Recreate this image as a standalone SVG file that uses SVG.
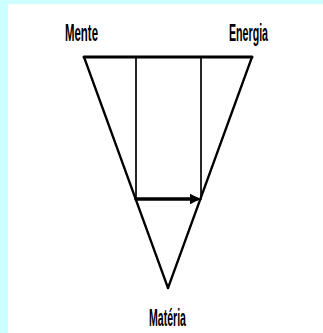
<svg xmlns="http://www.w3.org/2000/svg" width="323" height="333" viewBox="0 0 323 333">
<style>
.lbl{font-family:"Liberation Sans",Arial,sans-serif;font-size:23px;font-weight:bold;fill:#000}
.ln{stroke:#000;fill:none;stroke-linecap:round}
</style>
<defs>
<marker id="ah" markerWidth="3" markerHeight="3" refX="2" refY="1.5" orient="auto" markerUnits="strokeWidth">
<path d="M0,0 L3,1.5 L0,3 Z" fill="#000"/>
</marker>
</defs>
<rect x="0" y="0" width="323" height="333" fill="#ccffff"/>
<rect x="8" y="4" width="315" height="329" fill="#ffffff"/>
<g id="connectors">
<line class="ln" x1="84" y1="57" x2="252" y2="57" stroke-width="3"/>
<line class="ln" x1="84" y1="57" x2="168" y2="288" stroke-width="2.3"/>
<line class="ln" x1="252" y1="57" x2="168" y2="288" stroke-width="2.3"/>
<line class="ln" x1="136" y1="57" x2="136" y2="199" stroke-width="1.7"/>
<line class="ln" x1="201" y1="57" x2="201" y2="199" stroke-width="1.7"/>
<line class="ln" x1="136" y1="199" x2="197" y2="199" stroke-width="3.5" marker-end="url(#ah)"/>
</g>
<g id="mente"><text class="lbl" x="65" y="41" textLength="33" lengthAdjust="spacingAndGlyphs">Mente</text></g>
<g id="energia"><text class="lbl" x="229" y="41" textLength="39" lengthAdjust="spacingAndGlyphs">Energia</text></g>
<g id="materia"><text class="lbl" x="149" y="326" textLength="37" lengthAdjust="spacingAndGlyphs">Matéria</text></g>
</svg>
